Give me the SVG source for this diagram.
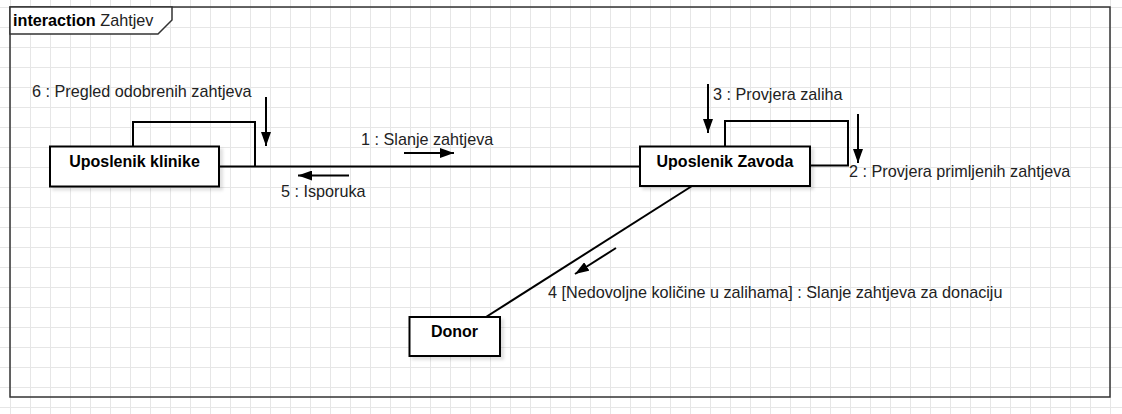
<svg xmlns="http://www.w3.org/2000/svg" width="1122" height="414" viewBox="0 0 1122 414">
  <defs>
    <pattern id="grid" patternUnits="userSpaceOnUse" x="10" y="7" width="20" height="20">
      <path d="M0,0.5 H20 M0.5,0 V20" fill="none" stroke="#e6e6e6" stroke-width="1"/>
    </pattern>
    <marker id="arr" markerUnits="userSpaceOnUse" markerWidth="14" markerHeight="10" refX="14" refY="5" orient="auto" viewBox="0 0 14 10">
      <path d="M0,0 L14,5 L0,10 Z" fill="#000"/>
    </marker>
    <filter id="shadow" x="-10%" y="-20%" width="130%" height="160%">
      <feDropShadow dx="3" dy="3" stdDeviation="1.5" flood-color="#000" flood-opacity="0.12"/>
    </filter>
  </defs>
  <style>
    .node rect { fill: #fff; stroke: #000; stroke-width: 2; filter: url(#shadow); }
    .node text { font-family: "Liberation Sans", Arial, sans-serif; font-size: 16px; font-weight: bold; fill: #000; text-anchor: middle; }
    .lbl { font-family: "Liberation Sans", Arial, sans-serif; font-size: 16.2px; fill: #222; }
    .conn { fill: none; stroke: #000; stroke-width: 2; }
    .msg { fill: none; stroke: #000; stroke-width: 2; marker-end: url(#arr); }
  </style>
  <rect x="0" y="0" width="1122" height="414" fill="#fff"/>
  <rect x="0" y="0" width="1122" height="414" fill="url(#grid)"/>

  <g id="frame">
    <rect x="10" y="7" width="1100" height="390" fill="none" stroke="#333" stroke-width="1.5"/>
    <path d="M10,7 H172 V20 L158,34 H10 Z" fill="#fff" stroke="#333" stroke-width="1.5"/>
    <text x="13" y="26" class="lbl" fill="#000"><tspan font-weight="bold" fill="#000">interaction</tspan> Zahtjev</text>
  </g>

  <g id="connectors">
    <path class="conn" d="M219,166.5 H640"/>
    <path class="conn" d="M133,147 V122 H255 V166.5"/>
    <path class="conn" d="M725,147 V121 H848 V165.5 H810"/>
    <path class="conn" stroke-width="1.5" d="M692,186 L486,317"/>
    <path class="msg" d="M266,97 V146"/>
    <path class="msg" d="M404,153 H454"/>
    <path class="msg" d="M349,175.5 H298"/>
    <path class="msg" d="M708,84 V133"/>
    <path class="msg" d="M858,114 V163"/>
    <path class="msg" stroke-width="1.5" d="M616,248 L575,274"/>
    <text class="lbl" x="32" y="97">6 : Pregled odobrenih zahtjeva</text>
    <text class="lbl" x="361" y="145">1 : Slanje zahtjeva</text>
    <text class="lbl" x="281" y="197">5 : Isporuka</text>
    <text class="lbl" x="713" y="100">3 : Provjera zaliha</text>
    <text class="lbl" x="849" y="177">2 : Provjera primljenih zahtjeva</text>
    <text class="lbl" x="548" y="298">4 [Nedovoljne količine u zalihama] : Slanje zahtjeva za donaciju</text>
  </g>

  <g id="uposlenik-klinike" class="node">
    <rect x="50" y="146.5" width="169" height="40"/>
    <text x="134.5" y="167">Uposlenik klinike</text>
  </g>
  <g id="uposlenik-zavoda" class="node">
    <rect x="640" y="146.5" width="170" height="39.5"/>
    <text x="725" y="167">Uposlenik Zavoda</text>
  </g>
  <g id="donor" class="node">
    <rect x="409.5" y="317" width="90.5" height="39"/>
    <text x="454.5" y="337">Donor</text>
  </g>
</svg>
